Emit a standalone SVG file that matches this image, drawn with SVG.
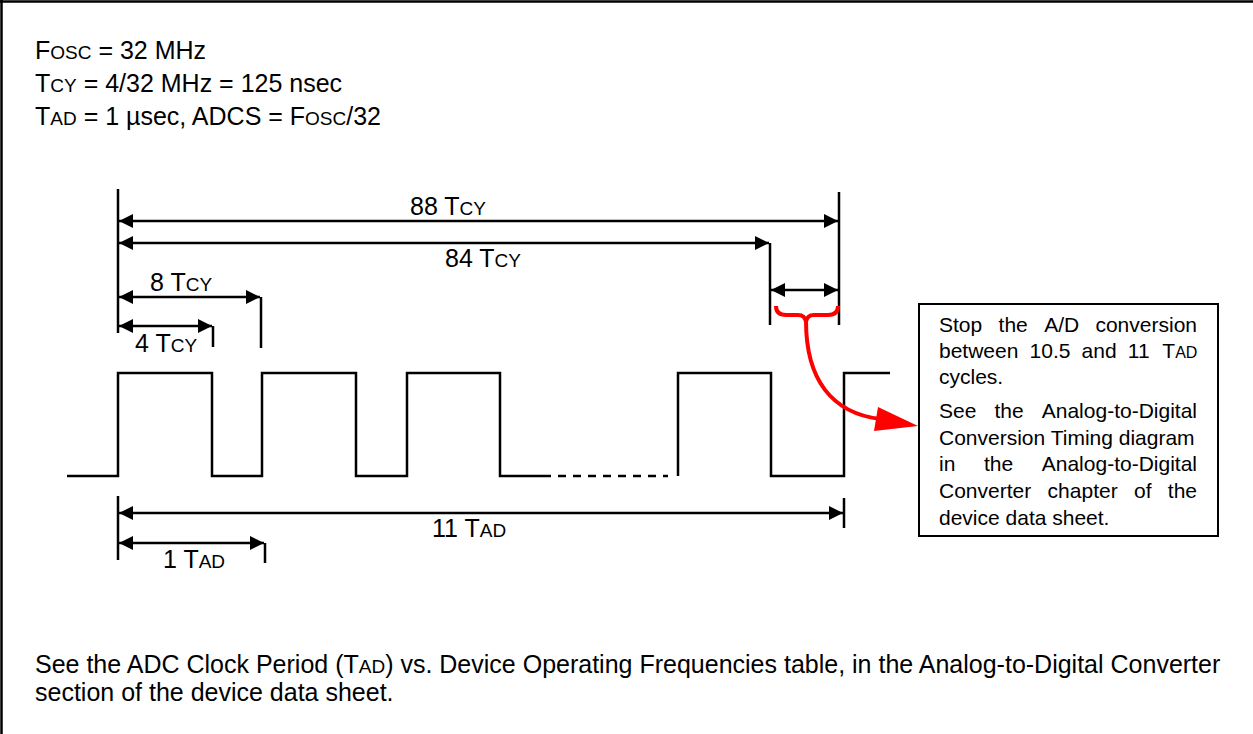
<svg xmlns="http://www.w3.org/2000/svg" width="1253" height="734" viewBox="0 0 1253 734">
<style>
text{font-family:"Liberation Sans",Arial,sans-serif;fill:#000}
.t{font-size:25px}
.b{font-size:21px}
.sc{font-size:19px}
.scb{font-size:16px}
.ln{stroke:#000;stroke-width:2.5;fill:none}
.dim{stroke:#000;stroke-width:2.5;fill:none;marker-start:url(#ah);marker-end:url(#ah)}
.red{stroke:#ff0000;stroke-width:4;fill:none}
</style>
<defs>
<marker id="ah" markerUnits="userSpaceOnUse" markerWidth="14" markerHeight="14" refX="14" refY="7" orient="auto-start-reverse" viewBox="0 0 14 14">
<path d="M0,0 L14,7 L0,14 z" fill="#000"/>
</marker>
</defs>
<rect width="1253" height="734" fill="#fff"/>
<g id="border">
<line class="ln" x1="0" y1="1.5" x2="1253" y2="1.5"/>
<line class="ln" x1="1.5" y1="0" x2="1.5" y2="734"/>
</g>
<g id="params">
<text class="t" x="35" y="59">F<tspan class="sc">OSC</tspan> = 32 MHz</text>
<text class="t" x="35" y="92">T<tspan class="sc">CY</tspan> = 4/32 MHz = 125 nsec</text>
<text class="t" x="35" y="125">T<tspan class="sc">AD</tspan> = 1 µsec, ADCS = F<tspan class="sc">OSC</tspan>/32</text>
</g>
<g id="waveform">
<path class="ln" d="M67,476 H118 V373 H212 V476 H262 V373 H356 V476 H407 V373 H500 V476 H551"/>
<path class="ln" d="M558,476 H668" stroke-dasharray="8 7"/>
<path class="ln" d="M678,476 V373 H771 V476 H844 V373 H890"/>
</g>
<g id="connectors">
<line class="ln" x1="118" y1="189" x2="118" y2="333"/>
<line class="ln" x1="839" y1="192" x2="839" y2="325"/>
<line class="ln" x1="770" y1="243" x2="770" y2="325"/>
<line class="ln" x1="261" y1="297" x2="261" y2="348"/>
<line class="ln" x1="213" y1="326" x2="213" y2="347"/>
<line class="ln" x1="118" y1="496" x2="118" y2="560"/>
<line class="ln" x1="844" y1="498" x2="844" y2="528"/>
<line class="ln" x1="265" y1="543" x2="265" y2="563"/>
<line class="dim" x1="119" y1="221" x2="838" y2="221"/>
<line class="dim" x1="119" y1="243" x2="769" y2="243"/>
<line class="dim" x1="119" y1="297" x2="260" y2="297"/>
<line class="dim" x1="119" y1="326" x2="212" y2="326"/>
<line class="dim" x1="771" y1="290" x2="838" y2="290"/>
<line class="dim" x1="119" y1="513" x2="843" y2="513"/>
<line class="dim" x1="119" y1="543" x2="264" y2="543"/>
<path class="red" d="M776,306 Q776,315 786,315 L798,315 Q805,315 806,322 Q807,315 814,315 L828,315 Q838,315 838,306"/>
<path class="red" d="M806,321 C806,380 832,413 880,419"/>
<polygon points="918,426 878,407 874,431" fill="#ff0000"/>
</g>
<g id="labels">
<text class="t" x="410" y="215">88 T<tspan class="sc">CY</tspan></text>
<text class="t" x="445" y="267">84 T<tspan class="sc">CY</tspan></text>
<text class="t" x="150" y="291">8 T<tspan class="sc">CY</tspan></text>
<text class="t" x="135" y="352">4 T<tspan class="sc">CY</tspan></text>
<text class="t" x="432" y="537">11 T<tspan class="sc">AD</tspan></text>
<text class="t" x="163" y="568">1 T<tspan class="sc">AD</tspan></text>
</g>
<g id="note">
<rect x="919" y="304" width="299" height="232" fill="#fff" stroke="#000" stroke-width="2"/>
<text class="b" y="332"><tspan x="939">Stop</tspan><tspan x="998.6">the</tspan><tspan x="1044.2">A/D</tspan><tspan x="1197" text-anchor="end">conversion</tspan></text>
<text class="b" y="358"><tspan x="939">between</tspan><tspan x="1029.6">10.5</tspan><tspan x="1081.6">and</tspan><tspan x="1127.8">11</tspan><tspan x="1162.3">T<tspan class="scb">AD</tspan></tspan></text>
<text class="b" x="939" y="384">cycles.</text>
<text class="b" y="418"><tspan x="939">See</tspan><tspan x="994.5">the</tspan><tspan x="1197" text-anchor="end">Analog-to-Digital</tspan></text>
<text class="b" x="939" y="445">Conversion Timing diagram</text>
<text class="b" y="471"><tspan x="939">in</tspan><tspan x="984">the</tspan><tspan x="1197" text-anchor="end">Analog-to-Digital</tspan></text>
<text class="b" y="498"><tspan x="939">Converter</tspan><tspan x="1047.6">chapter</tspan><tspan x="1134">of</tspan><tspan x="1197" text-anchor="end">the</tspan></text>
<text class="b" x="939" y="525">device data sheet.</text>
</g>
<g id="footer">
<text class="t" x="35" y="673">See the ADC Clock Period (T<tspan class="sc">AD</tspan>) vs. Device Operating Frequencies table, in the Analog-to-Digital Converter</text>
<text class="t" x="35" y="701">section of the device data sheet.</text>
</g>
</svg>
